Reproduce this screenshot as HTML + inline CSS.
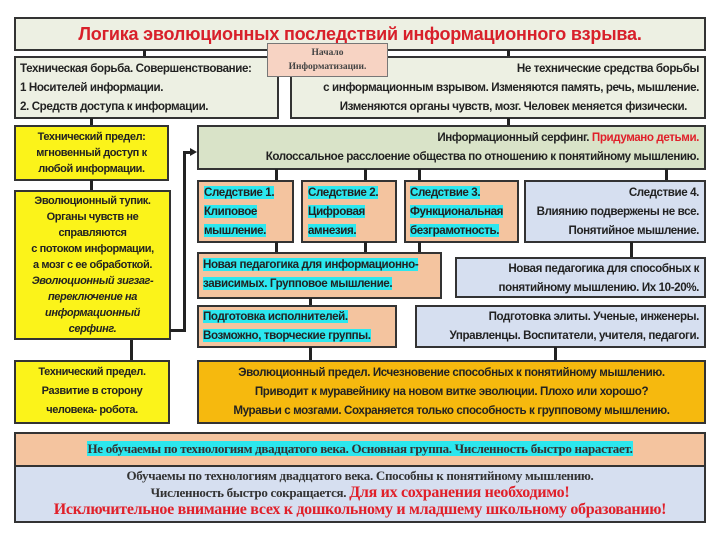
<!DOCTYPE html>
<html><head><meta charset="utf-8"><style>
body{margin:0;width:720px;height:542px;background:#fff;position:relative;overflow:hidden;font-family:"Liberation Sans","DejaVu Sans",sans-serif;font-weight:bold;color:#222}
.b{position:absolute;box-sizing:border-box;border:2.5px solid #333;font-size:11.6px;line-height:19px;letter-spacing:-0.4px;white-space:nowrap;overflow:hidden}
.g{background:#edf0e3}.gg{background:#d9e3c8}.y{background:#fbf31a}.s{background:#f4c49f}.bl{background:#d6dff0}.o{background:#f6b90e}
.c{text-align:center}.r{text-align:right}
.hl{background:#2ce7ee}
.v{position:absolute;width:3px;background:#222}
.h{position:absolute;height:3px;background:#222}
.red{color:#e0202a}
</style></head><body>
<div class="b g c" style="left:14px;top:17px;width:692px;height:34px;font-size:18px;line-height:30px;color:#d8202a;letter-spacing:-0.2px">Логика эволюционных последствий информационного взрыва.</div>
<div class="v" style="left:143px;top:50px;height:7px"></div>
<div class="v" style="left:507px;top:50px;height:7px"></div>
<div class="b g" style="left:14px;top:56px;width:265px;height:63px;padding:1px 4px">Техническая борьба. Совершенствование:<br>1 Носителей информации.<br>2. Средств доступа к информации.</div>
<div class="b g r" style="left:290px;top:56px;width:416px;height:63px;padding:1px 5px 0 4px">Не технические средства борьбы<br>с информационным взрывом. Изменяются память, речь, мышление.<br><span style="padding-right:12px">Изменяются органы чувств, мозг. Человек меняется физически.</span></div>
<div class="c" style="position:absolute;left:267px;top:43px;width:121px;height:34px;box-sizing:border-box;border:1.5px solid #777;background:#f7d3c3;font-family:'Liberation Serif',serif;font-size:9.5px;line-height:14px;padding-top:2px;color:#444">Начало<br>Информатизации.</div>
<div class="v" style="left:90px;top:118px;height:8px"></div>
<div class="v" style="left:507px;top:118px;height:8px"></div>
<div class="b y c" style="left:14px;top:125px;width:155px;height:56px;line-height:16px;padding-top:2px;font-size:11px">Технический предел:<br>мгновенный доступ к<br>любой информации.</div>
<div class="b gg r" style="left:197px;top:125px;width:509px;height:45px;padding:1px 5px 0 0">Информационный серфинг. <span class="red">Придумано детьми.</span><br>Колоссальное расслоение общества по отношению к понятийному мышлению.</div>
<div class="v" style="left:90px;top:180px;height:11px"></div>
<div class="v" style="left:275px;top:169px;height:12px"></div>
<div class="v" style="left:364px;top:169px;height:12px"></div>
<div class="v" style="left:418px;top:169px;height:12px"></div>
<div class="v" style="left:665px;top:169px;height:12px"></div>
<div class="b s" style="left:197px;top:180px;width:97px;height:63px;padding:1px 5px"><span class="hl">Следствие 1.</span><br><span class="hl">Клиповое</span><br><span class="hl">мышление.</span></div>
<div class="b s" style="left:301px;top:180px;width:96px;height:63px;padding:1px 5px"><span class="hl">Следствие 2.</span><br><span class="hl">Цифровая</span><br><span class="hl">амнезия.</span></div>
<div class="b s" style="left:404px;top:180px;width:115px;height:63px;padding:1px 4px"><span class="hl">Следствие 3.</span><br><span class="hl">Функциональная</span><br><span class="hl">безграмотность.</span></div>
<div class="b bl r" style="left:524px;top:180px;width:182px;height:63px;padding:1px 5px 0 0">Следствие 4.<br>Влиянию подвержены не все.<br>Понятийное мышление.</div>
<div class="b y c" style="left:14px;top:190px;width:157px;height:150px;line-height:16px;padding-top:1px;font-size:11px">Эволюционный тупик.<br>Органы чувств не<br>справляются<br>с потоком информации,<br>а мозг с ее обработкой.<br><i>Эволюционный зигзаг-<br>переключение на<br>информационный<br>серфинг.</i></div>
<div class="h" style="left:170px;top:329px;width:16px"></div>
<div class="v" style="left:183px;top:151px;height:181px"></div>
<div class="h" style="left:183px;top:151px;width:8px"></div>
<div style="position:absolute;left:190px;top:148px;border-left:7px solid #222;border-top:4.5px solid transparent;border-bottom:4.5px solid transparent"></div>
<div class="v" style="left:275px;top:242px;height:11px"></div>
<div class="v" style="left:364px;top:242px;height:11px"></div>
<div class="v" style="left:418px;top:242px;height:11px"></div>
<div class="v" style="left:630px;top:242px;height:16px"></div>
<div class="b s" style="left:197px;top:252px;width:245px;height:47px;padding:1px 4px"><span class="hl">Новая педагогика для информационно-</span><br><span class="hl">зависимых. Групповое мышление.</span></div>
<div class="b bl r" style="left:455px;top:257px;width:251px;height:41px;padding:0 5px 0 0">Новая педагогика для способных к<br>понятийному мышлению. Их 10-20%.</div>
<div class="v" style="left:309px;top:298px;height:8px"></div>
<div class="b s" style="left:197px;top:305px;width:200px;height:43px;padding:0 4px"><span class="hl">Подготовка исполнителей.</span><br><span class="hl">Возможно, творческие группы.</span></div>
<div class="b bl r" style="left:415px;top:305px;width:291px;height:43px;padding:0 5px 0 0">Подготовка элиты. Ученые, инженеры.<br>Управленцы. Воспитатели, учителя, педагоги.</div>
<div class="v" style="left:130px;top:340px;height:21px"></div>
<div class="v" style="left:309px;top:347px;height:14px"></div>
<div class="v" style="left:554px;top:347px;height:14px"></div>
<div class="b y c" style="left:14px;top:360px;width:156px;height:64px;padding-top:1px;font-size:11px">Технический предел.<br>Развитие в сторону<br>человека- робота.</div>
<div class="b o c" style="left:197px;top:360px;width:509px;height:64px;padding-top:1px">Эволюционный предел. Исчезновение способных к понятийному мышлению.<br>Приводит к муравейнику на новом витке эволюции. Плохо или хорошо?<br>Муравьи с мозгами. Сохраняется только способность к групповому мышлению.</div>
<div class="b" style="left:14px;top:432px;width:692px;height:91px;background:#d6dff0;font-family:'Liberation Serif',serif;text-align:center;letter-spacing:-0.3px">
<div style="background:#f4c49f;height:31px;border-bottom:2px solid #333;line-height:30px;font-size:13px;color:#333"><span class="hl">Не обучаемы по технологиям двадцатого века. Основная группа. Численность быстро нарастает.</span></div>
<div style="font-size:13px;line-height:17px;padding-top:0;color:#333">Обучаемы по технологиям двадцатого века. Способны к понятийному мышлению.<br>Численность быстро сокращается. <span class="red" style="font-size:16px">Для их сохранения необходимо!</span><br><span class="red" style="font-size:16px">Исключительное внимание всех к дошкольному и младшему школьному образованию!</span></div>
</div>
</body></html>
